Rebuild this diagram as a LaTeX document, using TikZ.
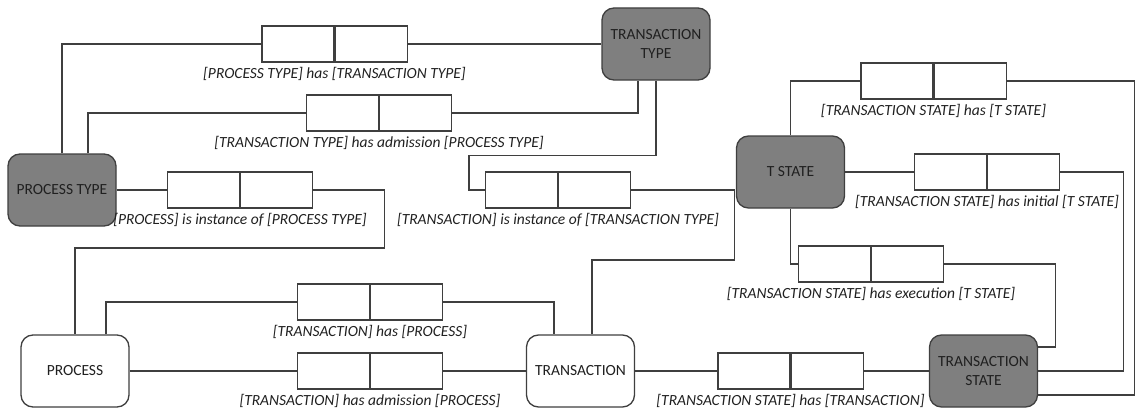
\documentclass[tikz,border=0pt]{standalone}
\usepackage{fontspec}
\setmainfont{Carlito}
\definecolor{ink}{HTML}{3F3F3F}
\definecolor{txt}{HTML}{202020}
\definecolor{shade}{HTML}{7F7F7F}
\tikzset{
  entity/.style={draw=ink, line width=1.3pt, rounded corners=12pt,
    minimum width=108pt, minimum height=72pt, inner sep=0pt,
    align=center, text=txt, font=\fontsize{15.5}{19}\selectfont},
  dark/.style={entity, fill=shade},
  light/.style={entity, fill=white},
  cell/.style={draw=ink, line width=1.2pt, fill=white,
    minimum width=72pt, minimum height=36pt, inner sep=0pt},
  lbl/.style={inner sep=0pt, text=txt, font=\fontsize{15.5}{19}\selectfont\itshape},
  link/.style={draw=ink, line width=1.2pt},
}
% two-cell relation box: name, divider x, centre y, caption
\newcommand\relbox[4]{%
  \node[cell, anchor=east] (#1a) at (#2,#3) {};
  \node[cell, anchor=west] (#1b) at (#2,#3) {};
  \node[lbl] (#1t) at (#2,#3+30) {#4};
}
\begin{document}
\begin{tikzpicture}[x=1pt,y=-1pt]
\useasboundingbox (0,0) rectangle (1135,412);

% entity types
\node[dark]  (PT)  at (62,190)    {PROCESS TYPE};
\node[dark]  (TT)  at (656,44)    {TRANSACTION\\TYPE};
\node[dark]  (TS)  at (790.5,172) {T STATE};
\node[light] (P)   at (75,371)    {PROCESS};
\node[light] (T)   at (580.5,371) {TRANSACTION};
\node[dark]  (TSt) at (983.5,371) {TRANSACTION\\STATE};

% fact types
\relbox{b1}{334.5}{44}{[PROCESS TYPE] has [TRANSACTION TYPE]}
\relbox{b2}{379}{113}{[TRANSACTION TYPE] has admission [PROCESS TYPE]}
\relbox{b3}{240}{190}{[PROCESS] is instance of [PROCESS TYPE]}
\relbox{b4}{558}{190}{[TRANSACTION] is instance of [TRANSACTION TYPE]}
\relbox{b5}{933.5}{81}{[TRANSACTION STATE] has [T STATE]}
\relbox{b6}{987}{172}{[TRANSACTION STATE] has initial [T STATE]}
\relbox{b7}{871}{264}{[TRANSACTION STATE] has execution [T STATE]}
\relbox{b8}{370}{302}{[TRANSACTION] has [PROCESS]}
\relbox{b9}{370}{371}{[TRANSACTION] has admission [PROCESS]}
\relbox{b10}{790.5}{371}{[TRANSACTION STATE] has [TRANSACTION]}

% roles
\draw[link] (PT.north) |- (b1a.west);
\draw[link] (b1b.east) -- (TT.west);
\draw[link] ([xshift=26pt]PT.north) |- (b2a.west);
\draw[link] (b2b.east) -| ([xshift=-18pt]TT.south);
\draw[link] (PT.east) -- (b3a.west);
\draw[link] (b3b.east) -- ++(71,0) -- ++(0,58) -| (P.north);
\draw[link] (TT.south) -- ++(0,75) -- ++(-187,0) |- (b4a.west);
\draw[link] (b4b.east) -- ++(103,0) -- ++(0,70) -| ([xshift=11.5pt]T.north);
\draw[link] ([xshift=31pt]P.north) |- (b8a.west);
\draw[link] (b8b.east) -| ([xshift=-26.5pt]T.north);
\draw[link] (P.east) -- (b9a.west);
\draw[link] (b9b.east) -- (T.west);
\draw[link] (T.east) -- (b10a.west);
\draw[link] (b10b.east) -- (TSt.west);
\draw[link] (TS.north) |- (b5a.west);
\draw[link] (TS.east) -- (b6a.west);
\draw[link] (TS.south) |- (b7a.west);
\draw[link] (b5b.east) -- ++(127.5,0) |- ([yshift=-24pt]TSt.east);
\draw[link] (b6b.east) -- ++(63,0) |- (TSt.east);
\draw[link] (b7b.east) -- ++(111,0) |- ([yshift=24pt]TSt.east);
\end{tikzpicture}
\end{document}
